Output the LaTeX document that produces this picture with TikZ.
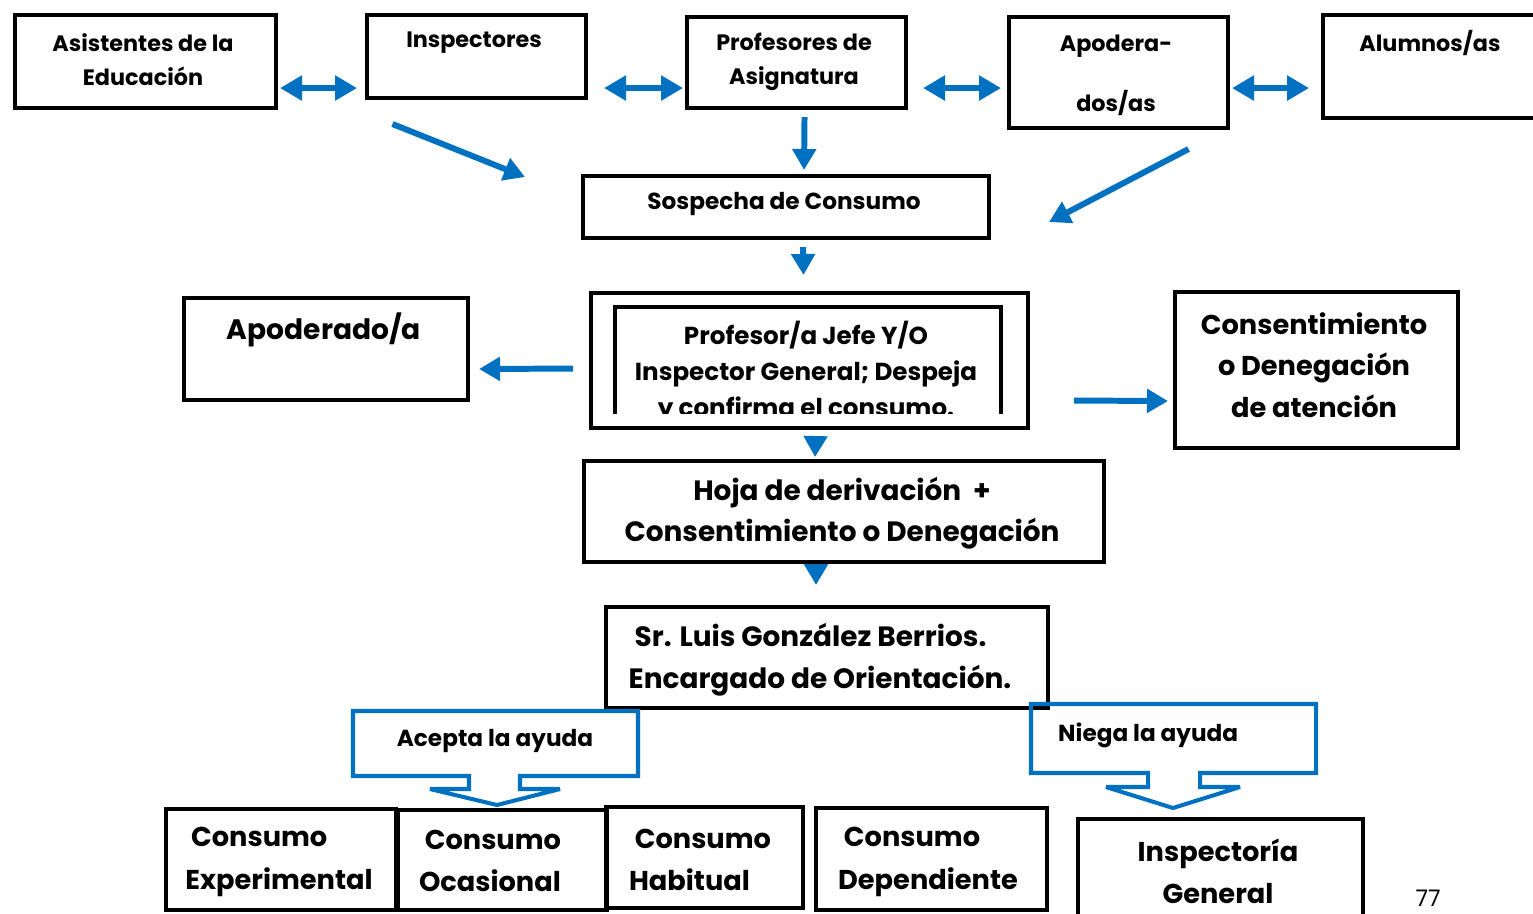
\documentclass[tikz,border=0pt]{standalone}
\usepackage{fontspec}
\setmainfont{Poppins}
\usetikzlibrary{arrows.meta,calc}
\definecolor{xanh}{RGB}{0,112,192}
\begin{document}
\begin{tikzpicture}[x=0.02cm, y=-0.02cm, line join=miter,
	hop/.style 2 args={draw, line width=2.3pt, inner sep=0pt, anchor=north west, minimum width=#1*0.02cm, minimum height=#2*0.02cm},
	chu/.style={font=\bfseries\fontsize{12.7}{19.3}\selectfont, align=center},
	chuvua/.style={font=\bfseries\fontsize{13.2}{20.4}\selectfont, align=center},
	chujefe/.style={font=\bfseries\fontsize{14}{20.4}\selectfont, align=center},
	chuto/.style={font=\bfseries\fontsize{15.5}{23.7}\selectfont, align=center},
	mui/.style={draw=xanh, line width=3.4pt, -{Triangle[length=0.42cm,width=0.46cm]}},
	muihai/.style={draw=xanh, line width=3.6pt, {Triangle[length=0.44cm,width=0.48cm]}-{Triangle[length=0.44cm,width=0.48cm]}},
	khung/.style={draw=xanh, line width=2.3pt, miter limit=2.5}]
	%Khung hình.
	\useasboundingbox (0,0) rectangle (1533,913);
	\clip (0,0) rectangle (1533,913);
	%Hàng trên.
	\node[hop={261}{93}] (asis) at (13,13) {};
	\node[hop={219}{83}] (insp) at (365,13) {};
	\node[hop={219}{91}] (prof) at (685,15) {};
	\node[hop={219}{111}] (apo) at (1007,15) {};
	\node[hop={230}{103}] (alum) at (1321,13) {};
	\node[chu] (tasis) at (143,60) {Asistentes de la\\Educación};
	\node[chu] (tinsp) at (474,43) {Inspectores};
	\node[chu] (tprof) at (794,62) {Profesores de\\Asignatura};
	\node[chu, font=\bfseries\fontsize{12.7}{34}\selectfont] (tapo) at (1116,75) {Apodera-\\dos/as};
	\node[chu] (talum) at (1430,43) {Alumnos/as};
	\draw[muihai] ($(asis.south east)+(2,-22)$) -- ($(insp.south west)+(-8,-12)$);
	\draw[muihai] ($(insp.south east)+(16,-12)$) -- ($(prof.south west)+(-2,-22)$);
	\draw[muihai] ($(prof.south east)+(15,-22)$) -- ($(apo.south west)+(-6,-42)$);
	\draw[muihai] ($(apo.south east)+(2,-42)$) -- ($(alum.south west)+(-12,-32)$);
	%Sospecha.
	\node[hop={406}{62}] (sosp) at (581,174) {};
	\node[chuvua] (tsosp) at (784,204) {Sospecha de Consumo};
	\draw[mui] ($(insp.south)+(-84,24)$) -- ($(sosp.west)+(-56,-30)$);
	\draw[mui] ($(prof.south)+(8,7)$) -- ($(sosp.north)+(18,-4)$);
	\draw[mui] ($(apo.south)+(70,19)$) -- ($(sosp.east)+(58,15)$);
	%Profesor jefe.
	\node[hop={437}{135}] (ngoai) at (589,291) {};
	\begin{scope}
		\clip (600,298) rectangle (1012,413);
		\node[hop={386}{130}, line width=2pt] (trong) at (613,305) {};
		\node[chujefe] (tjefe) at (806,372) {Profesor/a Jefe Y/O\\Inspector General; Despeja\\y confirma el consumo.};
	\end{scope}
	\draw[mui] ($(sosp.south)+(17,7)$) -- ($(ngoai.north)+(-6,-16)$);
	\node[hop={284}{102}] (apod) at (182,296) {};
	\node[chuto, font=\bfseries\fontsize{16}{23.7}\selectfont] (tapod) at (324,330) {Apoderado/a};
	\node[hop={283}{156}] (cons) at (1173,290) {};
	\node[chuto] (tcons) at (1314,365) {Consentimiento\\o Denegación\\de atención};
	\draw[mui] ($(ngoai.west)+(-16,8)$) -- ($(apod.east)+(9,20)$);
	\draw[mui] ($(ngoai.east)+(44,40)$) -- ($(cons.west)+(-5,31)$);
	%Hoja y orientación.
	\node[hop={520}{101}] (hoja) at (582,459) {};
	\node[chuto, font=\bfseries\fontsize{15.9}{23.7}\selectfont] (thoja) at (842,513) {Hoja de derivación \ +\\Consentimiento o Denegación};
	\node[hop={442}{101}] (sr) at (604,605) {};
	\node[chuto, align=left, font=\bfseries\fontsize{15.9}{24}\selectfont] (tsr) at (820,660) {\ Sr. Luis González Berrios.\\Encargado de Orientación.};
	\draw[mui] ($(ngoai.south)+(6,7)$) -- ($(hoja.north)+(-29,-2)$);
	\draw[mui] ($(hoja.south)+(-28,2)$) -- ($(sr.north)+(-11,-20)$);
	%Hộp ghi chú.
	\draw[khung] (353,711) -- (638,711) -- (638,776) -- (520,776) -- (520,789) -- (560,789) -- (497,805) -- (430,789) -- (469,789) -- (469,776) -- (353,776) -- cycle;
	\node[chuvua] (tacep) at (495,741) {Acepta la ayuda};
	\draw[khung] (1031,704) -- (1316,704) -- (1316,773) -- (1200,773) -- (1200,787) -- (1240,787) -- (1173,808) -- (1106,787) -- (1148,787) -- (1148,773) -- (1031,773) -- cycle;
	\node[chuvua, anchor=west] (tnieg) at (1052,735) {Niega la ayuda};
	%Hàng dưới.
	\node[hop={230}{101}] (expe) at (164,807) {};
	\node[hop={209}{100}] (ocas) at (396,808) {};
	\node[hop={197}{101}] (habi) at (604,805) {};
	\node[hop={231}{102}] (depe) at (814,806) {};
	\node[hop={285}{120}] (insg) at (1076,817) {};
	\node[chuto, align=left, font=\bfseries\fontsize{15.5}{24}\selectfont] (texpe) at (279,862) {\ Consumo\\Experimental};
	\node[chuto, align=left, font=\bfseries\fontsize{15.5}{24}\selectfont] (tocas) at (490,861) {\ Consumo\\Ocasional};
	\node[chuto, align=left, font=\bfseries\fontsize{15.5}{24}\selectfont] (thabi) at (700,860) {\ Consumo\\Habitual};
	\node[chuto, align=left, font=\bfseries\fontsize{15.5}{24}\selectfont] (tdepe) at (928,862) {\ Consumo\\Dependiente};
	\node[chuto] (tinsg) at (1218,871) {Inspectoría\\General};
	\node[font=\fontsize{13}{15}\selectfont, inner sep=1pt] (trang) at (1428,898) {77};
\end{tikzpicture}
\end{document}
